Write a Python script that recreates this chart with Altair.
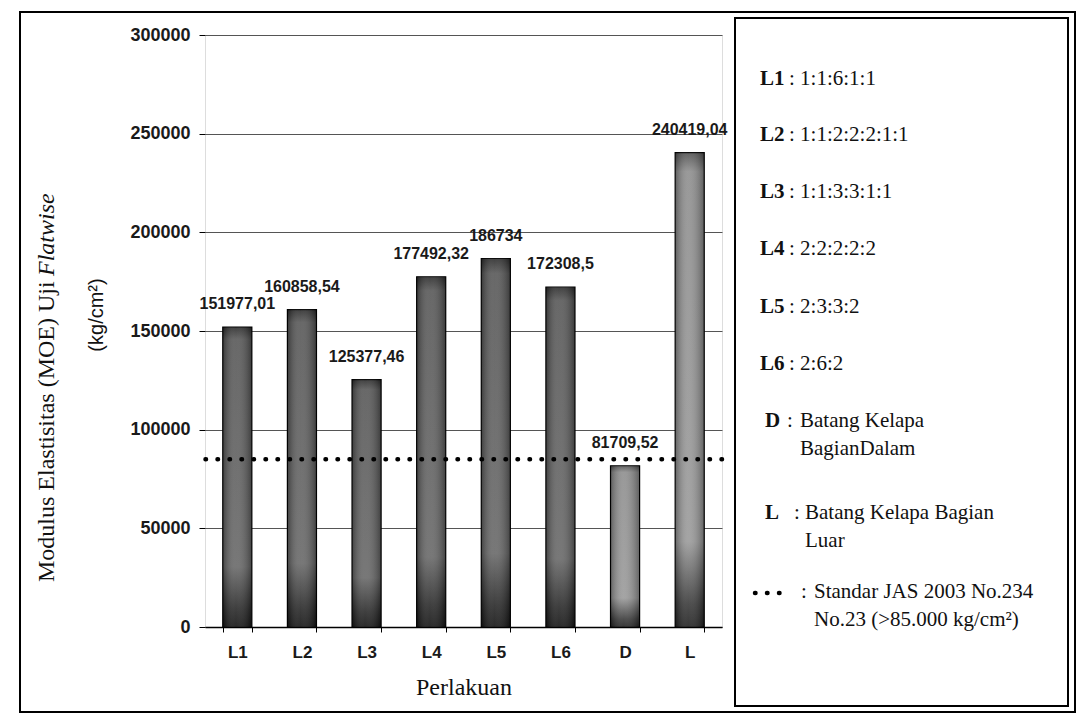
import altair as alt
import pandas as pd

# ---------------- data ----------------
categories = ["L1", "L2", "L3", "L4", "L5", "L6", "D", "L"]
moe_values = [151977.01, 160858.54, 125377.46, 177492.32, 186734, 172308.5, 81709.52, 240419.04]
standard_value = 85000
y_ticks = [0, 50000, 100000, 150000, 200000, 250000, 300000]

legend_keys = ["L1", "L2", "L3", "L4", "L5", "L6", "D", "L"]
legend_desc = ["1:1:6:1:1", "1:1:2:2:2:1:1", "1:1:3:3:1:1", "2:2:2:2:2", "2:3:3:2", "2:6:2",
               "Batang Kelapa\nBagianDalam", "Batang Kelapa Bagian\nLuar"]
standard_desc = "Standar JAS 2003 No.234\nNo.23 (>85.000 kg/cm²)"

labels = [str(v).replace(".", ",") for v in moe_values]
df = pd.DataFrame({"cat": categories, "moe": moe_values, "label": labels})
std_df = pd.DataFrame({"moe": [standard_value]})

# ---------------- layout ----------------
W, H = 517, 592
SERIF = "Liberation Serif"
SANS = "Liberation Sans"

x_enc = alt.X(
    "cat:N", sort=categories,
    scale=alt.Scale(paddingInner=0.55, paddingOuter=0.275),
    axis=alt.Axis(title="Perlakuan", labelAngle=0, tickBand="extent", tickSize=5,
                  tickColor="black", domainColor="black", domainWidth=1.5,
                  labelFont=SANS, labelFontSize=17, labelFontWeight="bold",
                  labelColor="#1a1a1a", labelPadding=12,
                  titleFont=SERIF, titleFontSize=24, titleFontWeight="normal",
                  titleColor="#111", titlePadding=15, grid=False),
)
y_enc = alt.Y(
    "moe:Q",
    scale=alt.Scale(domain=[0, 300000], nice=False),
    axis=alt.Axis(title=None, values=y_ticks, format="d", grid=True, gridColor="#555",
                  gridWidth=1, domain=False, tickSize=6, tickColor="black",
                  labelFont=SANS, labelFontSize=18, labelFontWeight="bold",
                  labelColor="#1a1a1a", labelPadding=9),
)

dark_grad = {"gradient": "linear", "x1": 0, "y1": 0, "x2": 0, "y2": 1,
             "stops": [{"offset": 0, "color": "#2a2a2a"},
                       {"offset": 0.04, "color": "#575757"},
                       {"offset": 0.8, "color": "#686868"},
                       {"offset": 0.94, "color": "#282828"},
                       {"offset": 1, "color": "#121212"}]}
light_grad = {"gradient": "linear", "x1": 0, "y1": 0, "x2": 0, "y2": 1,
              "stops": [{"offset": 0, "color": "#505050"},
                        {"offset": 0.04, "color": "#8e8e8e"},
                        {"offset": 0.82, "color": "#9a9a9a"},
                        {"offset": 0.95, "color": "#3a3a3a"},
                        {"offset": 1, "color": "#202020"}]}
side_grad = {"gradient": "linear", "x1": 0, "y1": 0, "x2": 1, "y2": 0,
             "stops": [{"offset": 0, "color": "rgba(0,0,0,0.35)"},
                       {"offset": 0.45, "color": "rgba(255,255,255,0.10)"},
                       {"offset": 1, "color": "rgba(0,0,0,0.35)"}]}

base = alt.Chart(df)
bars_dark = base.transform_filter("datum.cat != 'D' && datum.cat != 'L'").mark_bar(
    color=dark_grad, stroke="black", strokeWidth=1.2).encode(x=x_enc, y=y_enc)
bars_light = base.transform_filter("datum.cat == 'D' || datum.cat == 'L'").mark_bar(
    color=light_grad, stroke="black", strokeWidth=1.2).encode(x=x_enc, y=y_enc)
bars_side = base.mark_bar(color=side_grad).encode(x=x_enc, y=y_enc)

value_labels = base.mark_text(baseline="bottom", dy=-15, font=SANS, fontSize=16,
                              fontWeight="bold", color="#1a1a1a").encode(
    x=x_enc, y=y_enc, text="label:N")

std_rule = alt.Chart(std_df).mark_rule(color="black", strokeWidth=4.5, strokeDash=[0.5, 11.5],
                                       strokeCap="round").encode(y=y_enc)

one = alt.Data(values=[{}])

def box(x1, x2, y1, y2, w=2):
    return alt.Chart(one).mark_rect(filled=False, stroke="black", strokeWidth=w).encode(
        x=alt.value(x1), x2=alt.value(x2), y=alt.value(y1), y2=alt.value(y2))

def txt(s, x, y, **kw):
    props = dict(font=SERIF, fontSize=21, color="#111", align="left", baseline="top",
                 lineBreak="\n", lineHeight=28)
    props.update(kw)
    return alt.Chart(one).mark_text(text=s, **props).encode(x=alt.value(x), y=alt.value(y))

layers = [bars_dark, bars_light, bars_side, value_labels, std_rule]

# outer frame and legend box
layers.append(box(-185, 870, -23, 677, 2))
layers.append(box(530, 863, -17, 671, 2))

# y axis title (rotated, partly italic)
layers.append(txt("Modulus Elastisitas (MOE) Uji ", -158, 547, angle=270, baseline="middle",
                  fontSize=24))
layers.append(txt("Flatwise", -158, 241, angle=270, baseline="middle", fontSize=24,
                  fontStyle="italic"))
layers.append(txt("(kg/cm²)", -108, 280, angle=270, baseline="middle", align="center",
                  font=SANS, fontSize=20))

# legend panel
row_y = [45, 101, 158, 215, 273, 330, 387, 479]
for i, (k, d) in enumerate(zip(legend_keys, legend_desc)):
    if i < 6:
        layers.append(txt(k, 555, row_y[i] - 12, fontWeight="bold"))
        layers.append(txt(": " + d, 584, row_y[i] - 12))
    elif k == "D":
        layers.append(txt(k, 560, row_y[i] - 12, fontWeight="bold"))
        layers.append(txt(":", 582, row_y[i] - 12))
        layers.append(txt(d, 595, row_y[i] - 12))
    else:
        layers.append(txt(k, 560, row_y[i] - 12, fontWeight="bold"))
        layers.append(txt(":", 589, row_y[i] - 12))
        layers.append(txt(d, 600, row_y[i] - 12))

layers.append(alt.Chart(one).mark_rule(color="black", strokeWidth=4.5, strokeDash=[0.5, 11.5],
                                       strokeCap="round").encode(
    x=alt.value(550), x2=alt.value(578), y=alt.value(558)))
layers.append(txt(":", 596, 546))
layers.append(txt(standard_desc, 609, 546))

chart = alt.layer(*layers).properties(
    width=W, height=H,
    autosize=alt.AutoSizeParams(type="none"),
    padding={"left": 197, "top": 27, "right": 355, "bottom": 86},
).configure_view(stroke="black", strokeWidth=1.5).configure(background="white")

chart.save("out.html", embed_options={"renderer": "svg", "actions": False})
